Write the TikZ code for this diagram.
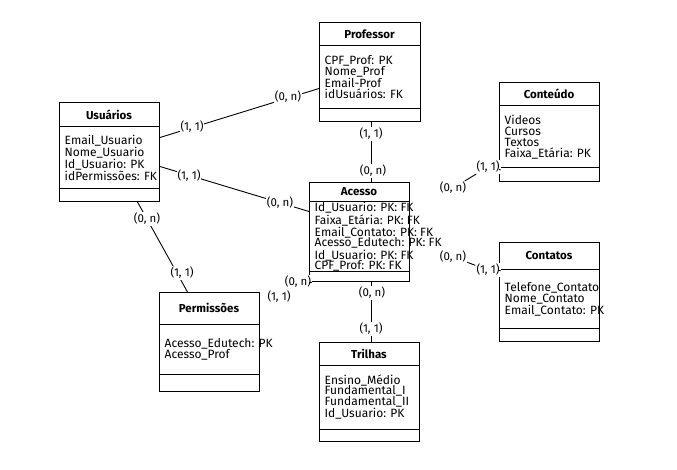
\documentclass[tikz,border=0pt]{standalone}
\usepackage{fontspec}
\setmainfont{Fira Sans}
\usetikzlibrary{backgrounds}
\tikzset{
  erbox/.style={draw, line width=1pt, inner sep=0pt},
  ertitle/.style={font=\fontsize{11.5}{11}\selectfont\bfseries, inner sep=0pt},
  erattr/.style={font=\fontsize{12}{10.9}\selectfont, align=left, inner sep=0pt},
  card/.style={font=\fontsize{11.5}{11}\selectfont, fill=white, inner sep=1pt},
  conn/.style={line width=0.9pt}
}
\newcommand{\mkentity}[9]{%
  \node[erbox, minimum width={(#4-#2)*1pt}, minimum height={(#5-#3)*1pt}, anchor=north west] (#1) at (#2,#3) {};
  \draw[line width=1pt] (#2,#6) -- (#4,#6);
  \draw[line width=1pt] (#2,#7) -- (#4,#7);
  \node[ertitle] (#1-t) at ({(#2+#4)/2},{(#3+#6)/2}) {#8};
  \node[erattr, anchor=west] (#1-a) at ({#2+5.5},{(#6+#7)/2}) {#9};
}
\begin{document}
\begin{tikzpicture}[x=1pt,y=-1pt]
\useasboundingbox (0,0) rectangle (677,470);
\begin{pgfonlayer}{background}
\fill[white] (0,0) rectangle (677,470);
\end{pgfonlayer}

\mkentity{usu}{59}{102}{159}{201}{127}{189}{Usuários}{Email\_Usuario\\Nome\_Usuario\\Id\_Usuario: PK\\idPermissões: FK}
\mkentity{prof}{319}{22}{420}{121}{46}{109}{Professor}{CPF\_Prof: PK\\Nome\_Prof\\Email-Prof\\idUsuários: FK}
\mkentity{cont}{499}{82}{599}{181}{106}{168}{Conteúdo}{Videos\\Cursos\\Textos\\Faixa\_Etária: PK}
\mkentity{acc}{309}{182}{409}{281}{202}{272}{Acesso}{Id\_Usuario: PK: FK\\Faixa\_Etária: PK: FK\\Email\_Contato: PK: FK\\Acesso\_Edutech: PK: FK\\Id\_Usuario: PK: FK\\CPF\_Prof: PK: FK}
\mkentity{ctt}{499}{242}{599}{341}{270}{328}{Contatos}{Telefone\_Contato\\Nome\_Contato\\Email\_Contato: PK}
\mkentity{perm}{159}{292}{259}{391}{324}{374}{Permissões}{Acesso\_Edutech: PK\\Acesso\_Prof}
\mkentity{tri}{319}{342}{419}{441}{365}{429}{Trilhas}{Ensino\_Médio\\Fundamental\_I\\Fundamental\_II\\Id\_Usuario: PK}

% cardinality labels
\node[card] (up1) at (192,127) {(1, 1)};
\node[card] (up0) at (288,97) {(0, n)};
\node[card] (ua1) at (189,176) {(1, 1)};
\node[card] (ua0) at (280,203) {(0, n)};
\node[card] (upm0) at (147,219) {(0, n)};
\node[card] (upm1) at (182,273) {(1, 1)};
\node[card] (pa1) at (371,134) {(1, 1)};
\node[card] (pa0) at (373,171) {(0, n)};
\node[card] (ca1) at (488,167) {(1, 1)};
\node[card] (ca0) at (453,188) {(0, n)};
\node[card] (ta0) at (453,257) {(0, n)};
\node[card] (ta1) at (488,270) {(1, 1)};
\node[card] (ap0) at (298,282) {(0, n)};
\node[card] (ap1) at (279,297) {(1, 1)};
\node[card] (at0) at (372,293) {(0, n)};
\node[card] (at1) at (371,329) {(1, 1)};

\begin{pgfonlayer}{background}
\draw[conn] ([yshift=14.5pt]usu.east) -- ([yshift=-16.5pt]prof.west);
\draw[conn] ([yshift=-14.5pt]usu.east) -- ([yshift=20.5pt]acc.west);
\draw[conn] ([xshift=28pt]usu.south) -- ([xshift=-22pt]perm.north);
\draw[conn] ([xshift=1.5pt]prof.south) -- ([xshift=12pt]acc.north);
\draw[conn] ([xshift=12pt]acc.south) -- ([xshift=2pt]tri.north);
\end{pgfonlayer}
\draw[conn] (ca0) -- (ca1) -- ([yshift=-37.5pt]cont.west);
\draw[conn] (ta0) -- (ta1) -- ([yshift=21.5pt]ctt.west);
\draw[conn] (acc.south west) -- (ap0);
\end{tikzpicture}
\end{document}
